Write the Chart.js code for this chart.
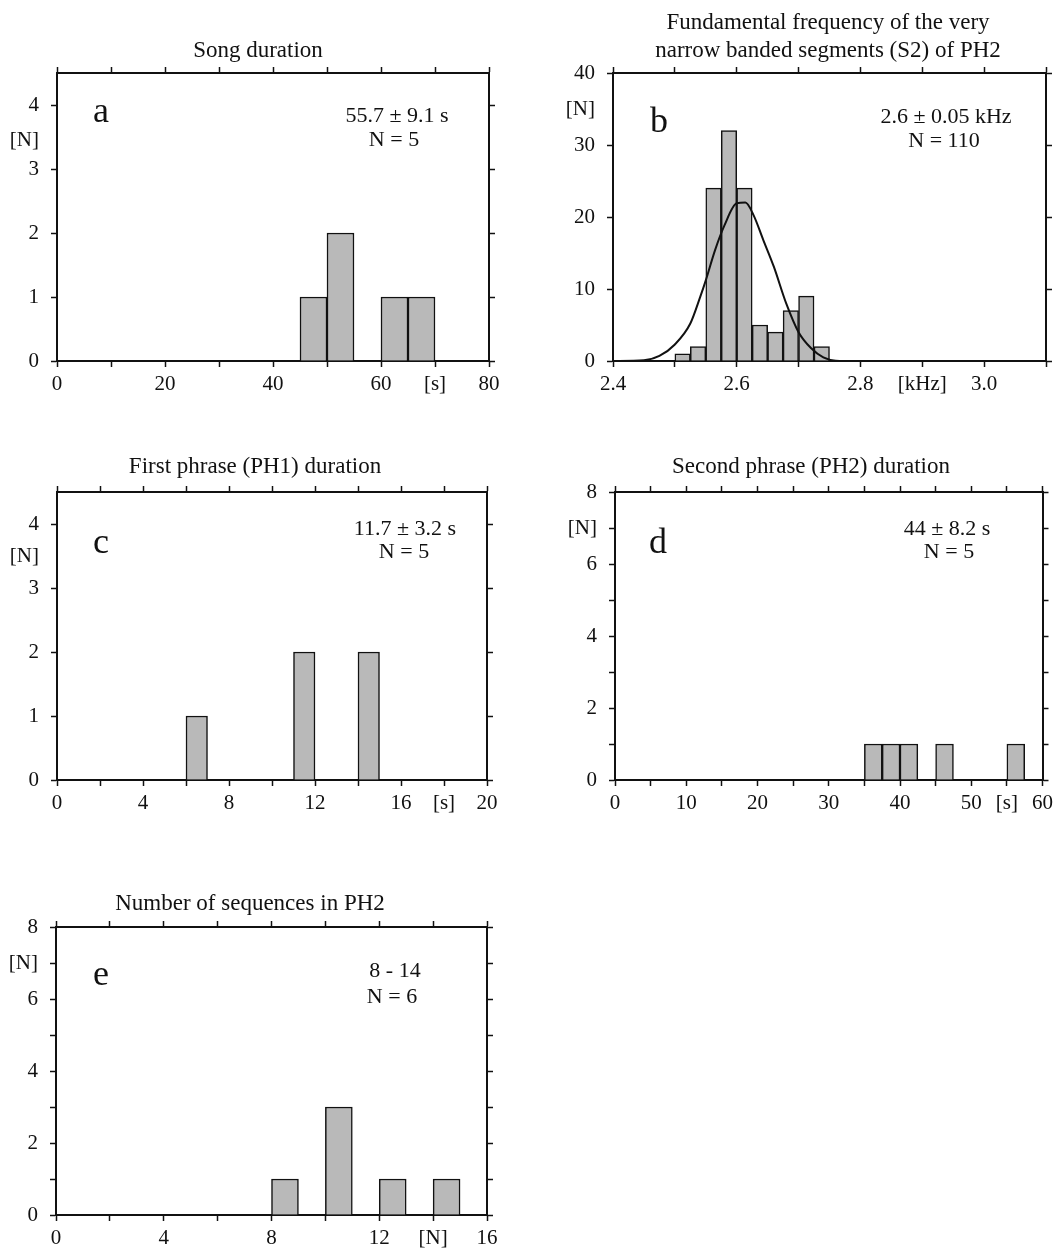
<!DOCTYPE html>
<html>
<head>
<meta charset="utf-8">
<script src="https://cdn.jsdelivr.net/npm/chart.js@4/dist/chart.umd.min.js"></script>
<style>
  body { margin: 0; background: #fff; }
  #page { position: relative; width: 1058px; height: 1249px; }
  canvas { position: absolute; }
</style>
</head>
<body>
<div id="page">
  <canvas id="chartA"></canvas>
  <canvas id="chartB"></canvas>
  <canvas id="chartC"></canvas>
  <canvas id="chartD"></canvas>
  <canvas id="chartE"></canvas>
</div>
<script>
// a - song duration (bins 5 s wide)
const songEdges = [45, 50, 60, 65];
const songCounts = [1, 2, 1, 1];
const songXTicks = [0, 10, 20, 30, 40, 50, 60, 70, 80];
const songXLabels = ['0', '', '20', '', '40', '', '60', '[s]', '80'];
const songYTicks = [0, 1, 2, 3, 3.45, 4];
const songYLabels = ['0', '1', '2', '3', '[N]', '4'];
const songYMarks = [0, 1, 2, 3, 4];

// b - fundamental frequency of S2 (bins 0.025 kHz wide)
const freqEdges = [2.5, 2.525, 2.55, 2.575, 2.6, 2.625, 2.65, 2.675, 2.7, 2.725];
const freqCounts = [1, 2, 24, 32, 24, 5, 4, 7, 9, 2];
const freqXTicks = [2.4, 2.5, 2.6, 2.7, 2.8, 2.9, 3.0, 3.1];
const freqXLabels = ['2.4', '', '2.6', '', '2.8', '[kHz]', '3.0', ''];
const freqYTicks = [0, 10, 20, 30, 35, 40];
const freqYLabels = ['0', '10', '20', '30', '[N]', '40'];
const freqYMarks = [0, 10, 20, 30, 40];
// fitted curve
const curveKhz = [2.40, 2.45, 2.475, 2.50, 2.525, 2.541, 2.55, 2.565, 2.58, 2.60, 2.614, 2.627, 2.643, 2.66, 2.68, 2.70, 2.72, 2.74, 2.76, 2.78];
const curveN = [0, 0.1, 0.7, 2.3, 5.2, 8.9, 11.2, 15.4, 18.8, 21.9, 22.0, 20.3, 16.8, 13.1, 8.0, 4.0, 1.8, 0.5, 0.05, 0];

// c - first phrase (PH1) duration (bins 1 s wide)
const ph1Edges = [6, 11, 14];
const ph1Counts = [1, 2, 2];
const ph1XTicks = [0, 2, 4, 6, 8, 10, 12, 14, 16, 18, 20];
const ph1XLabels = ['0', '', '4', '', '8', '', '12', '', '16', '[s]', '20'];
const ph1YTicks = [0, 1, 2, 3, 3.5, 4];
const ph1YLabels = ['0', '1', '2', '3', '[N]', '4'];
const ph1YMarks = [0, 1, 2, 3, 4];

// d - second phrase (PH2) duration (bins 2.5 s wide)
const ph2Edges = [35, 37.5, 40, 45, 55];
const ph2Counts = [1, 1, 1, 1, 1];
const ph2XTicks = [0, 5, 10, 15, 20, 25, 30, 35, 40, 45, 50, 55, 60];
const ph2XLabels = ['0', '', '10', '', '20', '', '30', '', '40', '', '50', '[s]', '60'];
const ph2YTicks = [0, 1, 2, 3, 4, 5, 6, 7, 8];
const ph2YLabels = ['0', '', '2', '', '4', '', '6', '[N]', '8'];
const ph2YMarks = [0, 1, 2, 3, 4, 5, 6, 7, 8];

// e - number of sequences in PH2 (bins of 1)
const seqEdges = [8, 10, 12, 14];
const seqCounts = [1, 3, 1, 1];
const seqXTicks = [0, 2, 4, 6, 8, 10, 12, 14, 16];
const seqXLabels = ['0', '', '4', '', '8', '', '12', '[N]', '16'];
const seqYTicks = [0, 1, 2, 3, 4, 5, 6, 7, 8];
const seqYLabels = ['0', '', '2', '', '4', '', '6', '[N]', '8'];
const seqYMarks = [0, 1, 2, 3, 4, 5, 6, 7, 8];

const INK = '#111';
const SERIF = '"Liberation Serif", "Times New Roman", serif';
Chart.defaults.font.family = SERIF;
Chart.defaults.font.size = 21;
Chart.defaults.color = INK;

// fixed axis sizes, so the plot frames land where they are in the figure
const AX_LEFT = 50, AX_RIGHT = 10, AX_TOP = 10, AX_BOTTOM = 34;

const panelText = {
    id: 'panelText',
    afterDraw(chart, args, opts) {
        const c = chart.ctx;
        c.save();
        c.fillStyle = INK;
        c.textBaseline = 'alphabetic';
        opts.items.forEach(t => {
            c.font = t.font;
            c.textAlign = t.align;
            c.fillText(t.text, t.x - opts.ox, t.y - opts.oy);
        });
        c.restore();
    }
};

function tickGrid(marks) {
    return {
        offset: false,
        drawOnChartArea: false,
        drawTicks: true,
        tickLength: 6,
        tickWidth: 1.5,
        tickColor: (ctx) => (ctx.tick && marks.includes(ctx.tick.value)) ? INK : 'rgba(0,0,0,0)'
    };
}

function makePanel(p) {
    const [bx, by, bw, bh] = p.box;
    const [l, t, r, b] = p.area;
    const canvas = document.getElementById(p.id);
    canvas.width = bw;
    canvas.height = bh;
    canvas.style.left = bx + 'px';
    canvas.style.top = by + 'px';

    // one category per bin across the whole axis range
    const nBins = Math.round((p.max - p.min) / p.binWidth);
    const binLabels = [];
    const binValues = [];
    for (let i = 0; i < nBins; i++) {
        binLabels.push((p.min + i * p.binWidth).toFixed(3));
        binValues.push(null);
    }
    p.edges.forEach((e, i) => {
        binValues[Math.round((e - p.min) / p.binWidth)] = p.counts[i];
    });

    const datasets = [{
        type: 'bar',
        data: binValues,
        xAxisID: 'xb',
        yAxisID: 'y',
        order: 2,
        grouped: false,
        backgroundColor: '#b9b9b9',
        borderColor: INK,
        borderWidth: 1.5,
        borderSkipped: 'start',
        barPercentage: 1,
        categoryPercentage: 1
    }];
    if (p.curveX) {
        datasets.push({
            type: 'line',
            data: p.curveX.map((x, i) => ({ x: x, y: p.curveY[i] })),
            xAxisID: 'x',
            yAxisID: 'y',
            order: 1,
            borderColor: INK,
            borderWidth: 2,
            pointRadius: 0,
            cubicInterpolationMode: 'monotone',
            fill: false
        });
    }

    const border = { display: true, color: INK, width: 2 };
    const setTicks = (vals) => (s) => { s.ticks = vals.map(v => ({ value: v })); };

    new Chart(canvas.getContext('2d'), {
        type: 'bar',
        data: { labels: binLabels, datasets: datasets },
        options: {
            responsive: false,
            animation: false,
            events: [],
            layout: {
                padding: {
                    left: l - bx - AX_LEFT,
                    top: t - by - AX_TOP,
                    right: bx + bw - r - AX_RIGHT,
                    bottom: by + bh - b - AX_BOTTOM
                }
            },
            plugins: {
                legend: { display: false },
                tooltip: { enabled: false },
                panelText: { ox: bx, oy: by, items: p.text }
            },
            scales: {
                xb: { type: 'category', display: false, offset: true },
                x: {
                    type: 'linear', position: 'bottom', min: p.min, max: p.max, offset: false,
                    afterBuildTicks: setTicks(p.xTicks),
                    afterFit: (s) => { s.height = AX_BOTTOM; },
                    ticks: {
                        autoSkip: false, maxRotation: 0, minRotation: 0, padding: 5,
                        callback: (v, i) => p.xLabels[i]
                    },
                    grid: tickGrid(p.xTicks),
                    border: border
                },
                x2: {
                    type: 'linear', position: 'top', min: p.min, max: p.max, offset: false,
                    afterBuildTicks: setTicks(p.xTicks),
                    afterFit: (s) => { s.height = AX_TOP; },
                    ticks: { display: false, autoSkip: false },
                    grid: tickGrid(p.xTicks),
                    border: border
                },
                y: {
                    type: 'linear', position: 'left', min: 0, max: p.yMax,
                    afterBuildTicks: setTicks(p.yTicks),
                    afterFit: (s) => { s.width = AX_LEFT; },
                    ticks: {
                        autoSkip: false, padding: 12,
                        callback: (v, i) => p.yLabels[i]
                    },
                    grid: tickGrid(p.yMarks),
                    border: border
                },
                y2: {
                    type: 'linear', position: 'right', min: 0, max: p.yMax,
                    afterBuildTicks: setTicks(p.yMarks),
                    afterFit: (s) => { s.width = AX_RIGHT; },
                    ticks: { display: false, autoSkip: false },
                    grid: tickGrid(p.yMarks),
                    border: border
                }
            }
        },
        plugins: [panelText]
    });
}

const TITLE = '23px ' + SERIF;
const STAT = '22px ' + SERIF;
const LETTER = '36px ' + SERIF;

makePanel({
    id: 'chartA', box: [0, 0, 529, 420], area: [57, 73, 489, 361],
    min: 0, max: 80, binWidth: 5, yMax: 4.5,
    edges: songEdges, counts: songCounts,
    xTicks: songXTicks, xLabels: songXLabels,
    yTicks: songYTicks, yLabels: songYLabels, yMarks: songYMarks,
    text: [
        { text: 'Song duration', x: 258, y: 57, font: TITLE, align: 'center' },
        { text: 'a', x: 93, y: 122, font: LETTER, align: 'left' },
        { text: '55.7 ± 9.1 s', x: 397, y: 122, font: STAT, align: 'center' },
        { text: 'N = 5', x: 394, y: 146, font: STAT, align: 'center' }
    ]
});

makePanel({
    id: 'chartB', box: [529, 0, 529, 420], area: [613, 73, 1046, 361],
    min: 2.4, max: 3.1, binWidth: 0.025, yMax: 40,
    edges: freqEdges, counts: freqCounts,
    curveX: curveKhz, curveY: curveN,
    xTicks: freqXTicks, xLabels: freqXLabels,
    yTicks: freqYTicks, yLabels: freqYLabels, yMarks: freqYMarks,
    text: [
        { text: 'Fundamental frequency of the very', x: 828, y: 29, font: TITLE, align: 'center' },
        { text: 'narrow banded segments (S2) of PH2', x: 828, y: 57, font: TITLE, align: 'center' },
        { text: 'b', x: 650, y: 132, font: LETTER, align: 'left' },
        { text: '2.6 ± 0.05 kHz', x: 946, y: 123, font: STAT, align: 'center' },
        { text: 'N = 110', x: 944, y: 147, font: STAT, align: 'center' }
    ]
});

makePanel({
    id: 'chartC', box: [0, 420, 529, 420], area: [57, 492, 487, 780],
    min: 0, max: 20, binWidth: 1, yMax: 4.5,
    edges: ph1Edges, counts: ph1Counts,
    xTicks: ph1XTicks, xLabels: ph1XLabels,
    yTicks: ph1YTicks, yLabels: ph1YLabels, yMarks: ph1YMarks,
    text: [
        { text: 'First phrase (PH1) duration', x: 255, y: 473, font: TITLE, align: 'center' },
        { text: 'c', x: 93, y: 553, font: LETTER, align: 'left' },
        { text: '11.7 ± 3.2 s', x: 405, y: 535, font: STAT, align: 'center' },
        { text: 'N = 5', x: 404, y: 558, font: STAT, align: 'center' }
    ]
});

makePanel({
    id: 'chartD', box: [529, 420, 529, 420], area: [615, 492, 1047, 780],
    min: 0, max: 60, binWidth: 2.5, yMax: 8,
    edges: ph2Edges, counts: ph2Counts,
    xTicks: ph2XTicks, xLabels: ph2XLabels,
    yTicks: ph2YTicks, yLabels: ph2YLabels, yMarks: ph2YMarks,
    text: [
        { text: 'Second phrase (PH2) duration', x: 811, y: 473, font: TITLE, align: 'center' },
        { text: 'd', x: 649, y: 553, font: LETTER, align: 'left' },
        { text: '44 ± 8.2 s', x: 947, y: 535, font: STAT, align: 'center' },
        { text: 'N = 5', x: 949, y: 558, font: STAT, align: 'center' }
    ]
});

makePanel({
    id: 'chartE', box: [0, 840, 529, 409], area: [56, 927, 487, 1215],
    min: 0, max: 16, binWidth: 1, yMax: 8,
    edges: seqEdges, counts: seqCounts,
    xTicks: seqXTicks, xLabels: seqXLabels,
    yTicks: seqYTicks, yLabels: seqYLabels, yMarks: seqYMarks,
    text: [
        { text: 'Number of sequences in PH2', x: 250, y: 910, font: TITLE, align: 'center' },
        { text: 'e', x: 93, y: 985, font: LETTER, align: 'left' },
        { text: '8 - 14', x: 395, y: 977, font: STAT, align: 'center' },
        { text: 'N = 6', x: 392, y: 1003, font: STAT, align: 'center' }
    ]
});
</script>
</body>
</html>
